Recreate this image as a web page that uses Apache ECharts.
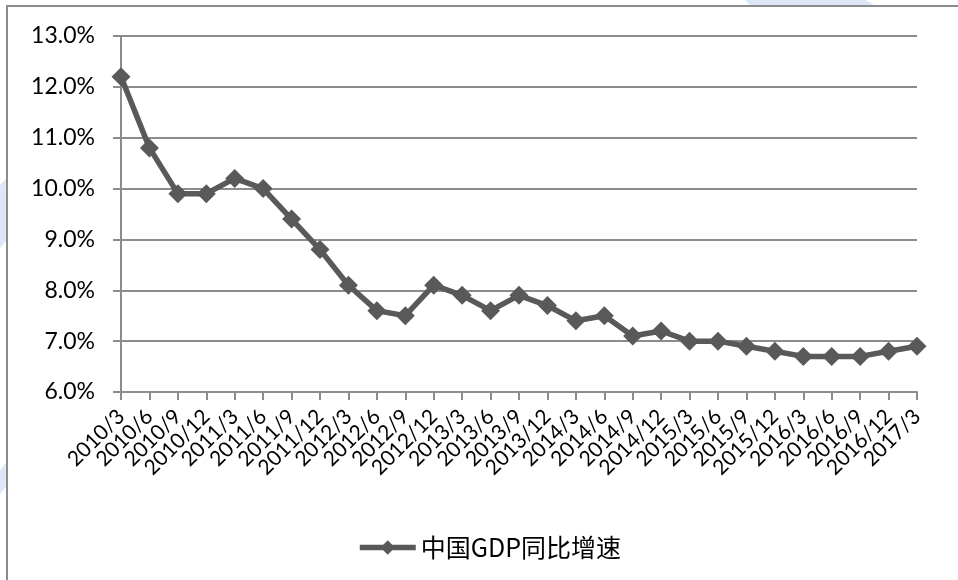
<!DOCTYPE html>
<html>
<head>
<meta charset="utf-8">
<script src="https://cdn.jsdelivr.net/npm/echarts@6/dist/echarts.min.js"></script>
<style>
  html, body { margin: 0; padding: 0; background: #fff; }
  #main { width: 958px; height: 580px; }
</style>
</head>
<body>
<div id="main"></div>
<script>
// 季度
var quarters = ['2010/3', '2010/6', '2010/9', '2010/12', '2011/3', '2011/6', '2011/9', '2011/12',
  '2012/3', '2012/6', '2012/9', '2012/12', '2013/3', '2013/6', '2013/9', '2013/12',
  '2014/3', '2014/6', '2014/9', '2014/12', '2015/3', '2015/6', '2015/9', '2015/12',
  '2016/3', '2016/6', '2016/9', '2016/12', '2017/3'];
// GDP同比增速 (%)
var gdpGrowth = [12.2, 10.8, 9.9, 9.9, 10.2, 10.0, 9.4, 8.8,
  8.1, 7.6, 7.5, 8.1, 7.9, 7.6, 7.9, 7.7,
  7.4, 7.5, 7.1, 7.2, 7.0, 7.0, 6.9, 6.8,
  6.7, 6.7, 6.7, 6.8, 6.9];
var seriesName = '中国GDP同比增速';

var chart = echarts.init(document.getElementById('main'));
var gray = '#595959';
var gridGray = '#8c8c8c';

var option = {
  animation: false,
  backgroundColor: '#fff',
  graphic: [
    // 背景淡蓝色水印
    { type: 'polygon', silent: true, z: -10, shape: { points: [[0, 185], [7, 178], [7, 240], [0, 248]] }, style: { fill: '#dde8f6' } },
    { type: 'polygon', silent: true, z: -10, shape: { points: [[0, 470], [7, 462], [7, 486], [0, 494]] }, style: { fill: '#dde8f6' } },
    { type: 'polygon', silent: true, z: -10, shape: { points: [[745, 0], [866, 0], [874, 5], [750, 5]] }, style: { fill: '#dde8f6' } },
    // 图表外框
    { type: 'rect', silent: true, z: -5, shape: { x: 7, y: 6, width: 1000, height: 700 }, style: { fill: 'none', stroke: gridGray, lineWidth: 2 } }
  ],
  grid: { left: 121, right: 41, top: 36, bottom: 188 },
  legend: {
    left: 352,
    top: 530,
    itemWidth: 56,
    itemHeight: 18,
    itemGap: 6,
    lineStyle: { width: 5.5 },
    textStyle: { fontFamily: 'Noto Sans CJK SC', fontSize: 25, color: '#000' },
    data: [seriesName]
  },
  xAxis: {
    type: 'category',
    data: quarters,
    boundaryGap: false,
    axisLine: { lineStyle: { color: gridGray, width: 2 } },
    axisTick: { show: true, length: 8, alignWithLabel: true, lineStyle: { color: gridGray, width: 2 } },
    axisLabel: {
      interval: 0,
      rotate: 45,
      margin: 21,
      color: '#000',
      fontFamily: 'Lato',
      fontSize: 21
    },
    splitLine: { show: false }
  },
  yAxis: {
    type: 'value',
    min: 6,
    max: 13,
    interval: 1,
    axisLine: { show: true, lineStyle: { color: gridGray, width: 2 } },
    axisTick: { show: true, length: 8, lineStyle: { color: gridGray, width: 2 } },
    axisLabel: {
      margin: 26,
      color: '#000',
      fontFamily: 'Lato',
      fontSize: 23,
      formatter: function (v) { return v.toFixed(1) + '%'; }
    },
    splitLine: { lineStyle: { color: gridGray, width: 2 } }
  },
  series: [{
    name: seriesName,
    type: 'line',
    data: gdpGrowth,
    symbol: 'diamond',
    symbolSize: 19,
    itemStyle: { color: gray },
    lineStyle: { color: gray, width: 5.5 }
  }]
};
chart.setOption(option);
</script>
</body>
</html>
